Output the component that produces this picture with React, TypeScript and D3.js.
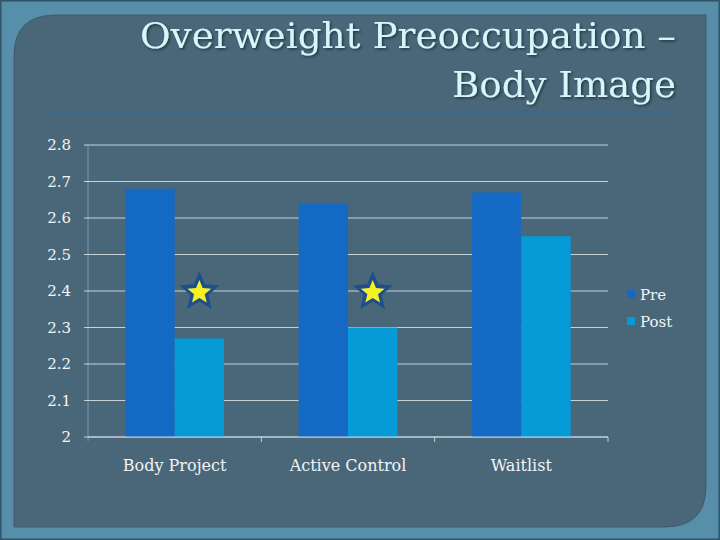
import React from "react";
import * as d3 from "d3";

const categories = ["Body Project", "Active Control", "Waitlist"];
const seriesNames = ["Pre", "Post"];
const preValues = [2.68, 2.64, 2.67];
const postValues = [2.27, 2.3, 2.55];
const yTicks = [2, 2.1, 2.2, 2.3, 2.4, 2.5, 2.6, 2.7, 2.8];
const starFlags = [true, true, false];
const titleLines = ["Overweight Preoccupation –", "Body Image"];

const colors = ["#1469c4", "#069bd6"];

function starPath(cx: number, cy: number, rOuter: number, rInner: number) {
  const pts: [number, number][] = [];
  for (let i = 0; i < 10; i++) {
    const r = i % 2 === 0 ? rOuter : rInner;
    const a = -Math.PI / 2 + (i * Math.PI) / 5;
    pts.push([cx + r * Math.cos(a), cy + r * Math.sin(a)]);
  }
  return d3.line()(pts) + "Z";
}

export default function App() {
  const W = 720, H = 540;
  const left = 88, right = 608, top = 145, bottom = 437;
  const x0 = d3.scaleBand().domain(categories).range([left, right]).paddingInner(0).paddingOuter(0);
  const groupW = x0.bandwidth() * 0.57;
  const x1 = d3.scaleBand().domain(seriesNames).range([0, groupW]).padding(0);
  const y = d3.scaleLinear().domain([2, 2.8]).range([bottom, top]);
  const font = "'DejaVu Serif', serif";
  const series = [preValues, postValues];

  return (
    <svg width={W} height={H} style={{ position: "absolute", left: 0, top: 0 }}>
      <defs>
        <filter id="ts" x="-5%" y="-20%" width="110%" height="140%">
          <feDropShadow dx="1.5" dy="1.5" stdDeviation="0.8" floodColor="#1a2a33" floodOpacity="0.8" />
        </filter>
      </defs>
      <rect x={0} y={0} width={W} height={H} fill="#578ea9" />
      <rect x={0} y={0} width={W} height={H} fill="none" stroke="#2f5568" strokeWidth={3} />
      <path
        d={`M14,56 Q14,15 56,15 L706,15 L706,486 Q706,527 664,527 L14,527 Z`}
        fill="#4a6779"
        stroke="#3e5a6a"
        strokeWidth={1}
      />
      {titleLines.map((t, i) => (
        <text
          key={t}
          x={676}
          y={48 + i * 49}
          textAnchor="end"
          fontFamily={font}
          fontSize={35}
          fill="#d6f6fb"
          filter="url(#ts)"
          textLength={i === 0 ? 536 : 224}
          lengthAdjust="spacingAndGlyphs"
        >
          {t}
        </text>
      ))}
      <line x1={46} x2={676} y1={112} y2={112} stroke="#376a92" strokeWidth={2.5} />
      <line x1={left} x2={left} y1={top} y2={bottom + 4} stroke="#7e97a6" strokeWidth={1} />
      {yTicks.map((t) => (
        <g key={t}>
          <line x1={left - 4} x2={right} y1={y(t)} y2={y(t)} stroke="#c5d2da" strokeWidth={1} />
          <text x={71} y={y(t) + 5} textAnchor="end" fontFamily={font} fontSize={15} fill="#f2f4f5">
            {d3.format("")(t)}
          </text>
        </g>
      ))}
      {categories.map((c, ci) => {
        const gx = (x0(c) as number) + (x0.bandwidth() - groupW) / 2;
        const sx = gx + (x1("Post") as number) + x1.bandwidth() / 2;
        return (
          <g key={c}>
            {seriesNames.map((s, si) => (
              <rect
                key={s}
                x={gx + (x1(s) as number)}
                y={y(series[si][ci])}
                width={x1.bandwidth()}
                height={bottom - y(series[si][ci])}
                fill={colors[si]}
              />
            ))}
            {starFlags[ci] && (
              <g>
                <path d={starPath(sx, y(2.4) + 1, 21, 9.5)} fill="#1e4f8a" />
                <path d={starPath(sx, y(2.4) + 1.5, 12.5, 5.6)} fill="#f5f224" />
              </g>
            )}
            <text
              x={(x0(c) as number) + x0.bandwidth() / 2}
              y={471}
              textAnchor="middle"
              fontFamily={font}
              fontSize={16}
              fill="#f2f4f5"
            >
              {c}
            </text>
          </g>
        );
      })}
      <line x1={left} x2={right} y1={bottom} y2={bottom} stroke="#c5d2da" strokeWidth={1} />
      {categories.map((c) => {
        const xe = (x0(c) as number) + x0.bandwidth();
        return <line key={c} x1={xe} x2={xe} y1={bottom} y2={bottom + 5} stroke="#c5d2da" strokeWidth={1} />;
      })}
      {seriesNames.map((s, i) => (
        <g key={s}>
          <rect x={627} y={290 + i * 27} width={8} height={8} fill={colors[i]} />
          <text x={640} y={300 + i * 27} fontFamily={font} fontSize={15} fill="#f2f4f5">
            {s}
          </text>
        </g>
      ))}
    </svg>
  );
}
